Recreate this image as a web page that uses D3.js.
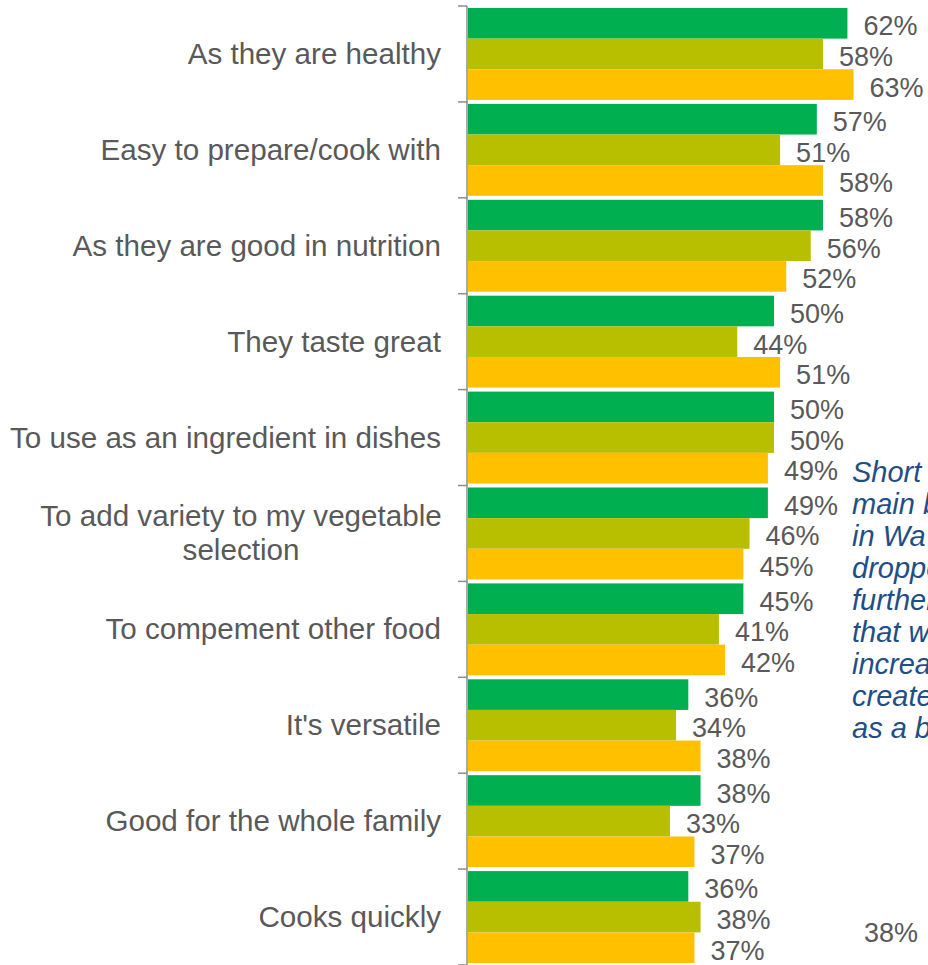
<html>
<head>
<style>
body { margin: 0; background: #fff; }
svg { display: block; }
.cat-label { font-family: "Liberation Sans", Arial, sans-serif; font-size: 29.6px; fill: #595959; }
.val-label { font-family: "Liberation Sans", Arial, sans-serif; font-size: 27px; fill: #595959; }
.note { font-family: "Liberation Sans", Arial, sans-serif; font-size: 29px; font-style: italic; fill: #1f4e86; }
.axis-line { stroke: #8c8c8c; stroke-width: 1.5px; }
</style>
</head>
<body>
<script src="https://d3js.org/d3.v7.min.js"></script>
<script>

var categories = [
	["As they are healthy"],
	["Easy to prepare/cook with"],
	["As they are good in nutrition"],
	["They taste great"],
	["To use as an ingredient in dishes"],
	["To add variety to my vegetable", "selection"],
	["To compement other food"],
	["It's versatile"],
	["Good for the whole family"],
	["Cooks quickly"]
]

var seriesNames = ["s1", "s2", "s3"]
var seriesColors = ["#00b050", "#b7bf00", "#ffc000"]

var values1 = [62, 57, 58, 50, 50, 49, 45, 36, 38, 36]
var values2 = [58, 51, 56, 44, 50, 46, 41, 34, 33, 38]
var values3 = [63, 58, 52, 51, 49, 45, 42, 38, 37, 37]

// side note, only the part visible before the right edge
var noteLines = ["Short", "main b", "in Wa", "droppe", "further", "that w", "increa", "create", "as a b"]
var strayLabel = "38%"

var canvasWidth = 928
var canvasHeight = 965

var svg = d3.select("body").append("svg")
			.attr("width", canvasWidth)
			.attr("height", canvasHeight)

var catKeys = categories.map(function(d, i) { return i })

var y = d3.scaleBand()
		  .domain(catKeys)
		  .range([6, 6 + 95.9 * categories.length])

var ySub = d3.scaleBand()
			 .domain(seriesNames)
			 .range([2, y.bandwidth() - 2])

var x = d3.scaleLinear()
		  .domain([0, 100])
		  .range([468, 468 + 612])

var rows = []
for (var i = 0; i < categories.length; i++) {
	rows.push({ i: i, vals: [values1[i], values2[i], values3[i]] })
}

// bars
var groups = svg.selectAll("g.row")
				.data(rows)
				.enter().append("g")
				.attr("class", "row")
				.attr("transform", function(d) { return "translate(0," + y(d.i) + ")" })

groups.selectAll("rect")
	  .data(function(d) { return d.vals.map(function(v, k) { return { v: v, k: k } }) })
	  .enter().append("rect")
	  .attr("x", x(0))
	  .attr("y", function(d) { return ySub(seriesNames[d.k]) })
	  .attr("width", function(d) { return x(d.v) - x(0) })
	  .attr("height", ySub.bandwidth())
	  .style("fill", function(d) { return seriesColors[d.k] })

groups.selectAll("text.val-label")
	  .data(function(d) { return d.vals.map(function(v, k) { return { v: v, k: k } }) })
	  .enter().append("text")
	  .attr("class", "val-label")
	  .attr("x", function(d) { return x(d.v) + 16 })
	  .attr("y", function(d) { return ySub(seriesNames[d.k]) + ySub.bandwidth() / 2 + 12 })
	  .text(function(d) { return d.v + "%" })

// axis
svg.append("line")
   .attr("class", "axis-line")
   .attr("x1", 467).attr("x2", 467)
   .attr("y1", y.range()[0]).attr("y2", canvasHeight)

var tickYs = catKeys.map(function(k) { return y(k) }).concat([y.range()[1]])
svg.selectAll("line.tick")
   .data(tickYs)
   .enter().append("line")
   .attr("class", "axis-line tick")
   .attr("x1", 458).attr("x2", 467)
   .attr("y1", function(d) { return d }).attr("y2", function(d) { return d })

// category labels
var labels = svg.selectAll("text.cat-label")
				.data(rows)
				.enter().append("text")
				.attr("class", "cat-label")
				.attr("text-anchor", function(d) { return categories[d.i].length > 1 ? "middle" : "end" })
				.attr("x", function(d) { return categories[d.i].length > 1 ? 241 : 441 })
				.attr("y", function(d) { return y(d.i) + y.bandwidth() / 2 })

labels.selectAll("tspan")
	  .data(function(d) { var lines = categories[d.i]; return lines.map(function(l, j) { return { t: l, j: j, n: lines.length } }) })
	  .enter().append("tspan")
	  .attr("x", function() { return d3.select(this.parentNode).attr("x") })
	  .attr("dy", function(d) { return d.j === 0 ? (10 - (d.n - 1) * 17) : 34 })
	  .text(function(d) { return d.t })

svg.selectAll("text.note")
   .data(noteLines)
   .enter().append("text")
   .attr("class", "note")
   .attr("x", 852)
   .attr("y", function(d, i) { return 482 + i * 32 })
   .text(function(d) { return d })

svg.append("text")
   .attr("class", "val-label")
   .attr("x", 864)
   .attr("y", 942)
   .text(strayLabel)

</script>
</body>
</html>
